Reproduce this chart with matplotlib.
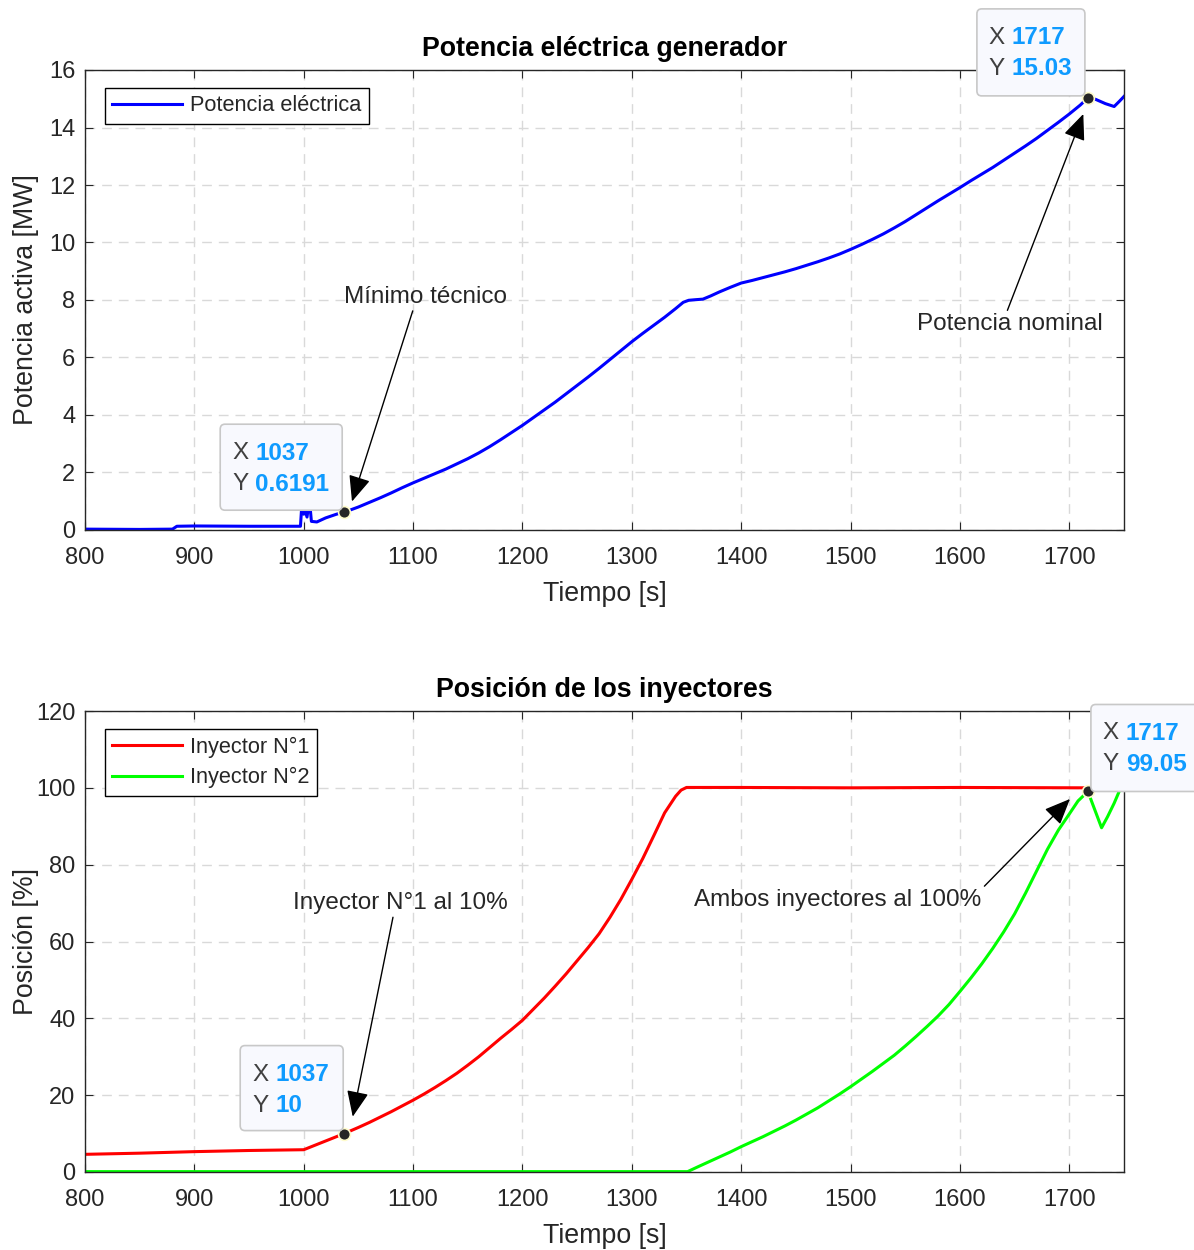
import matplotlib
matplotlib.use('Agg')
import matplotlib.pyplot as plt
from matplotlib.patches import FancyBboxPatch

plt.rcParams['font.family'] = ['Liberation Sans', 'DejaVu Sans']

# ---------------- data ----------------
# Potencia eléctrica generador [MW] vs tiempo [s]
t_pot = [800, 850, 880, 884, 900, 950, 997, 998, 1000, 1001, 1003, 1004, 1006, 1007,
         1012, 1020, 1030, 1037, 1040, 1050, 1060, 1070, 1080, 1090, 1100, 1110, 1120,
         1130, 1140, 1150, 1160, 1170, 1180, 1190, 1200, 1210, 1220, 1230, 1240, 1250,
         1260, 1270, 1280, 1290, 1300, 1310, 1320, 1330, 1340, 1347, 1352, 1358, 1365,
         1372, 1380, 1390, 1400, 1410, 1420, 1430, 1440, 1450, 1460, 1470, 1480, 1490,
         1500, 1510, 1520, 1530, 1540, 1550, 1560, 1570, 1580, 1590, 1600, 1610, 1620,
         1630, 1640, 1650, 1660, 1670, 1680, 1690, 1700, 1710, 1717, 1724, 1733, 1741,
         1746, 1750]
p_pot = [0.03, 0.02, 0.03, 0.13, 0.14, 0.13, 0.13, 0.72, 0.55, 0.72, 0.45, 0.72, 0.72, 0.30,
         0.28, 0.42, 0.55, 0.62, 0.66, 0.80, 0.96, 1.12, 1.29, 1.47, 1.64, 1.80, 1.96,
         2.12, 2.30, 2.48, 2.68, 2.90, 3.14, 3.39, 3.64, 3.91, 4.18, 4.45, 4.74, 5.03,
         5.32, 5.62, 5.93, 6.24, 6.55, 6.84, 7.12, 7.40, 7.70, 7.92, 7.99, 8.01, 8.03,
         8.14, 8.28, 8.44, 8.59, 8.68, 8.78, 8.88, 8.98, 9.09, 9.21, 9.33, 9.46, 9.60,
         9.76, 9.93, 10.11, 10.30, 10.51, 10.73, 10.97, 11.21, 11.45, 11.68, 11.91, 12.15, 12.38,
         12.61, 12.86, 13.11, 13.36, 13.62, 13.90, 14.18, 14.47, 14.78, 15.03, 14.98, 14.83, 14.73,
         14.92, 15.08]

# Posición de los inyectores [%]
t_iny1 = [800, 850, 900, 950, 1000, 1037, 1050, 1060, 1070, 1080, 1090, 1100, 1110, 1120,
          1130, 1140, 1150, 1160, 1170, 1180, 1190, 1200, 1210, 1220, 1230, 1240, 1250,
          1260, 1270, 1280, 1290, 1300, 1310, 1320, 1330, 1340, 1345, 1350, 1400, 1500,
          1600, 1717, 1750]
p_iny1 = [4.6, 4.9, 5.3, 5.6, 5.8, 10.0, 11.6, 12.9, 14.3, 15.7, 17.2, 18.7, 20.3, 22.0,
          23.8, 25.7, 27.8, 30.0, 32.4, 34.8, 37.1, 39.5, 42.4, 45.3, 48.4, 51.6, 55.0,
          58.4, 62.0, 66.3, 71.0, 76.2, 81.6, 87.5, 93.5, 97.8, 99.4, 100.1, 100.1, 100.0,
          100.1, 100.0, 100.0]

t_iny2 = [800, 1000, 1200, 1351, 1360, 1370, 1380, 1390, 1400, 1410, 1420, 1430, 1440,
          1450, 1460, 1470, 1480, 1490, 1500, 1510, 1520, 1530, 1540, 1550, 1560, 1570,
          1580, 1590, 1600, 1610, 1620, 1630, 1640, 1650, 1660, 1670, 1680, 1690, 1700,
          1708, 1717, 1723, 1729.5, 1735, 1741, 1747, 1750]
p_iny2 = [0.1, 0.1, 0.1, 0.1, 1.3, 2.6, 3.9, 5.2, 6.6, 7.9, 9.2, 10.6, 12.0,
          13.5, 15.1, 16.7, 18.5, 20.3, 22.2, 24.2, 26.2, 28.3, 30.4, 32.8, 35.3, 37.9,
          40.6, 43.6, 47.0, 50.5, 54.2, 58.2, 62.5, 67.2, 72.6, 78.3, 84.0, 89.0, 93.2,
          96.6, 99.05, 94.5, 89.6, 92.5, 96.0, 100.0, 100.5]

x_ticks = [800, 900, 1000, 1100, 1200, 1300, 1400, 1500, 1600, 1700]
y_ticks_top = [0, 2, 4, 6, 8, 10, 12, 14, 16]
y_ticks_bot = [0, 20, 40, 60, 80, 100, 120]

tips_top = [(1037, 0.6191, '1037', '0.6191'), (1717, 15.03, '1717', '15.03')]
tips_bot = [(1037, 10, '1037', '10'), (1717, 99.05, '1717', '99.05')]

# ---------------- figure ----------------
W, H = 1194, 1250
fig = plt.figure(figsize=(W / 100, H / 100), dpi=100)
ax1 = fig.add_axes([85 / W, 1 - 530 / H, 1039 / W, 460 / H])
ax2 = fig.add_axes([85 / W, 1 - 1172 / H, 1039 / W, 461 / H])

AXC = '#262626'
TICKFS = 17
LABFS = 19.3


def style(ax, yticks, ylim, ylabel, title, h):
    ax.set_xlim(800, 1750)
    ax.set_ylim(*ylim)
    ax.set_xticks(x_ticks)
    ax.set_yticks(yticks)
    ax.grid(True, color='#d9d9d9', lw=1.0, ls=(0, (7, 5)))
    ax.set_axisbelow(True)
    ax.tick_params(direction='in', top=True, right=True, length=6, width=0.8,
                   colors=AXC, labelsize=TICKFS)
    ax.tick_params(axis='y', pad=7)
    ax.tick_params(axis='x', pad=12.5)
    for s in ax.spines.values():
        s.set_color(AXC)
        s.set_linewidth(1.0)
    ax.set_xlabel('Tiempo [s]', fontsize=LABFS, color=AXC)
    ax.set_ylabel(ylabel, fontsize=LABFS, color=AXC)
    ax.xaxis.set_label_coords(0.5, -51 / h)
    ax.yaxis.set_label_coords(-0.0445, 0.5)
    ax.set_title(title, fontsize=LABFS, fontweight='bold', color='black', pad=10)


style(ax1, y_ticks_top, (0, 16), 'Potencia activa [MW]', 'Potencia eléctrica generador', 460)
style(ax2, y_ticks_bot, (0, 120), 'Posición [%]', 'Posición de los inyectores', 461)

ax1.plot(t_pot, p_pot, color=(0, 0, 1), lw=2.2, label='Potencia eléctrica')
ax2.plot(t_iny1, p_iny1, color=(1, 0, 0), lw=2.2, label='Inyector N°1')
ax2.plot(t_iny2, p_iny2, color=(0, 1, 0), lw=2.2, label='Inyector N°2')

for ax, h in ((ax1, 460), (ax2, 461)):
    leg = ax.legend(loc='upper left', bbox_to_anchor=(20 / 1039, 1 - 18 / h),
                    borderaxespad=0, frameon=True, fancybox=False, edgecolor='black',
                    fontsize=15.7, handlelength=3.2, handletextpad=0.35,
                    borderpad=0.34, labelspacing=0.45, framealpha=1)
    leg.get_frame().set_linewidth(1.0)
    for t in leg.get_texts():
        t.set_color(AXC)

arrow_kw = dict(arrowstyle='-|>,head_length=0.8,head_width=0.34', color='black',
                lw=1.0, mutation_scale=20, shrinkA=0, shrinkB=0)
ANNFS = 17.5
ax1.annotate('Mínimo técnico', xy=(1044.1, 0.99), xytext=(1110.9, 8.10),
             ha='center', va='center', fontsize=ANNFS, color=AXC,
             arrowprops=dict(**arrow_kw, relpos=(0.43, 0.0)))
ax1.annotate('Potencia nominal', xy=(1712.8, 14.47), xytext=(1645.8, 7.16),
             ha='center', va='center', fontsize=ANNFS, color=AXC,
             arrowprops=dict(**arrow_kw, relpos=(0.48, 1.0)))
ax2.annotate('Inyector N°1 al 10%', xy=(1044.8, 14.4), xytext=(1088, 69.9),
             ha='center', va='center', fontsize=ANNFS, color=AXC,
             arrowprops=dict(**arrow_kw, relpos=(0.47, 0.0)))
ax2.annotate('Ambos inyectores al 100%', xy=(1700.6, 97.1), xytext=(1488.5, 70.9),
             ha='center', va='center', fontsize=ANNFS, color=AXC,
             arrowprops=dict(**arrow_kw, relpos=(0.99, 0.85)))


def datatip(ax, x, y, xs, ys, l, r, b, t):
    px, py = ax.transData.transform((x, y))
    ax.plot([x], [y], 'o', ms=8.5, mfc='#262626', mec='#fffccc', mew=1.2,
            zorder=10, clip_on=False)
    left, right = px + l, px + r
    bottom, top = py + b, py + t
    box = FancyBboxPatch((left / W, bottom / H), (right - left) / W, (top - bottom) / H,
                         boxstyle='round,pad=0,rounding_size=0.004',
                         transform=fig.transFigure, facecolor='#f8f9fe',
                         edgecolor='#c8c8c8', lw=1.2, zorder=20)
    fig.add_artist(box)
    for dy, lab, val in ((29, 'X', xs), (60, 'Y', ys)):
        fig.text((left + 12) / W, (top - dy) / H, lab, fontsize=17.5, color='#404040',
                 ha='left', va='center', zorder=21)
        fig.text((left + 35) / W, (top - dy) / H, val, fontsize=17.5, color='#0f9bff',
                 fontweight='bold', ha='left', va='center', zorder=21)


datatip(ax1, *tips_top[0], -124, -2, 2, 88)
datatip(ax1, *tips_top[1], -111, -3, 2, 89)
datatip(ax2, *tips_bot[0], -104, -1, 3, 88)
datatip(ax2, *tips_bot[1], 3, 112, 0, 87)

fig.savefig('out.png', dpi=100, facecolor='white')
